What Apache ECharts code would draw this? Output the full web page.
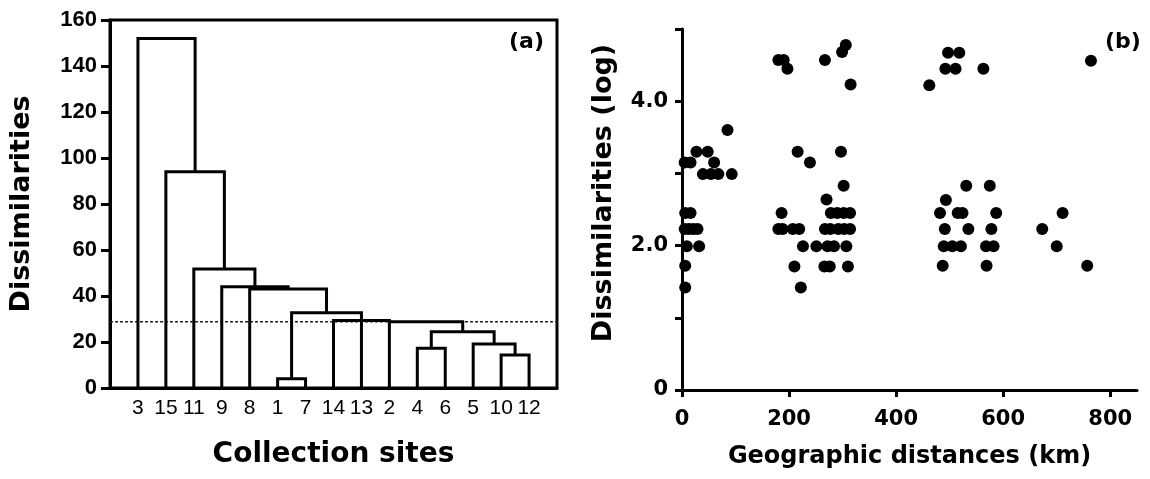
<!DOCTYPE html>
<html>
<head>
<meta charset="utf-8">
<script src="https://cdn.jsdelivr.net/npm/echarts@6/dist/echarts.min.js"></script>
<style>
  html, body { margin: 0; padding: 0; background: #fff; }
  #chart { width: 1150px; height: 479px; }
</style>
</head>
<body>
<div id="chart"></div>
<script>
// (a) dendrogram: leaf order along the x axis, then merges bottom-up.
// a kid is a leaf label (string) or the index of an earlier merge (number)
var leafOrder = ['3', '15', '11', '9', '8', '1', '7', '14', '13', '2', '4', '6', '5', '10', '12'];
var mergeKids = [
  ['1', '7'], ['10', '12'], ['4', '6'], ['5', 1], [2, 3], ['2', 4],
  ['14', '13', 5], [0, 6], ['8', 7], ['9', 8], ['11', 9], ['15', 10], ['3', 11]
];
var mergeHeight = [4, 14.3, 17.3, 19.1, 24.5, 28.8, 29.3, 32.7, 43, 44, 51.7, 94, 152];
var leftAnchored = [5];   // merge drawn above its first kid instead of the middle
var cutHeight = 28.8;
var dissTicks = [0, 160, 20];

// (b) geographic distance vs log dissimilarity
var geoDistKm = [
  5, 16, 27, 48, 60, 39, 54, 68, 93, 85, 6, 16, 5, 13, 21, 29, 9, 32, 6, 6,
  180, 190, 197, 216, 239, 267, 299, 306, 315, 297, 302, 270,
  186, 278, 290, 302, 314,
  180, 188, 207, 219, 267, 277, 292, 303, 314,
  226, 251, 272, 284, 307, 210, 266, 276, 310, 222,
  497, 518, 492, 511, 563, 462, 531, 575, 493,
  482, 515, 524, 587, 491, 535, 578, 489, 505, 521, 568, 582, 487, 569,
  764, 711, 673, 700, 757
];
var logDissim = [
  3.15, 3.15, 3.30, 3.30, 3.15, 2.99, 2.99, 2.99, 2.99, 3.60, 2.45, 2.45, 2.23, 2.23, 2.23, 2.23, 1.99, 1.99, 1.72, 1.42,
  4.57, 4.57, 4.45, 3.30, 3.15, 4.57, 4.68, 4.78, 4.23, 3.30, 2.83, 2.64,
  2.45, 2.45, 2.45, 2.45, 2.45,
  2.23, 2.23, 2.23, 2.23, 2.23, 2.23, 2.23, 2.23, 2.23,
  1.99, 1.99, 1.99, 1.99, 1.99, 1.71, 1.71, 1.71, 1.71, 1.42,
  4.67, 4.67, 4.45, 4.45, 4.45, 4.22, 2.83, 2.83, 2.63,
  2.45, 2.45, 2.45, 2.45, 2.23, 2.23, 2.23, 1.99, 1.99, 1.99, 1.99, 1.99, 1.72, 1.72,
  4.56, 2.45, 2.23, 1.99, 1.72
];
var distTicks = [0, 200, 400, 600, 800];

var ARIAL = '"Liberation Sans", Arial, sans-serif';
var WIDE = '"DejaVu Sans", Verdana, sans-serif';

// build the dendrogram polylines in data units
var nodeX = [];
function kidX(k) { return typeof k === 'number' ? nodeX[k] : leafOrder.indexOf(k) + 1; }
function kidH(k) { return typeof k === 'number' ? mergeHeight[k] : 0; }
var brackets = [];
mergeKids.forEach(function (kids, i) {
  var h = mergeHeight[i];
  var first = kids[0], last = kids[kids.length - 1];
  var x1 = kidX(first), x2 = kidX(last);
  nodeX[i] = leftAnchored.indexOf(i) >= 0 ? x1 : (x1 + x2) / 2;
  var lines = [[[x1, kidH(first)], [x1, h], [x2, h], [x2, kidH(last)]]];
  kids.slice(1, -1).forEach(function (k) {
    lines.push([[kidX(k), kidH(k)], [kidX(k), h]]);
  });
  brackets.push(lines);
});

var chart = echarts.init(document.getElementById('chart'));
function bold(family, size) {
  return { fontFamily: family, fontWeight: 'bold', fontSize: size, color: '#000' };
}

var option = {
  backgroundColor: '#fff',
  animation: false,
  grid: [
    { left: 110, top: 20, right: 593, bottom: 91, show: true, borderColor: '#000', borderWidth: 3, backgroundColor: 'transparent' },
    { left: 682, top: 29, right: 13, bottom: 89 }
  ],
  xAxis: [
    {
      gridIndex: 0, type: 'value', min: 0, max: leafOrder.length + 1,
      splitLine: { show: false },
      axisLine: { lineStyle: { color: '#000', width: 3 } },
      axisTick: { show: false },
      axisLabel: {
        customValues: leafOrder.map(function (l, i) { return i + 1; }),
        formatter: function (v) { return leafOrder[v - 1]; },
        fontFamily: ARIAL, fontSize: 21, color: '#000', margin: 10
      },
      name: 'Collection sites', nameLocation: 'middle', nameGap: 53,
      nameTextStyle: bold(WIDE, 28)
    },
    {
      gridIndex: 1, type: 'value', min: 0, max: 850,
      splitLine: { show: false },
      axisLine: { lineStyle: { color: '#000', width: 3 } },
      axisTick: { customValues: distTicks, length: 7, lineStyle: { color: '#000', width: 3 } },
      axisLabel: Object.assign({ customValues: distTicks, margin: 19 }, bold(WIDE, 21)),
      name: 'Geographic distances (km)', nameLocation: 'middle', nameGap: 55,
      nameTextStyle: bold(WIDE, 24)
    }
  ],
  yAxis: [
    {
      gridIndex: 0, type: 'value', min: dissTicks[0], max: dissTicks[1], interval: dissTicks[2],
      splitLine: { show: false },
      axisLine: { lineStyle: { color: '#000', width: 3 } },
      axisTick: { length: 9, lineStyle: { color: '#000', width: 3 } },
      axisLabel: Object.assign({ margin: 13 }, bold(ARIAL, 22)),
      name: 'Dissimilarities', nameLocation: 'middle', nameGap: 75,
      nameTextStyle: bold(WIDE, 27)
    },
    {
      gridIndex: 1, type: 'value', min: 0, max: 5, interval: 1,
      splitLine: { show: false },
      axisLine: { lineStyle: { color: '#000', width: 3 } },
      axisTick: { length: 7, lineStyle: { color: '#000', width: 3 } },
      axisLabel: Object.assign({
        margin: 14,
        formatter: function (v) { return v === 0 ? '0' : (v % 2 === 0 ? v.toFixed(1) : ''); }
      }, bold(WIDE, 21))
    }
  ],
  series: [
    {
      type: 'custom', xAxisIndex: 0, yAxisIndex: 0,
      data: brackets.map(function (b, i) { return [nodeX[i], mergeHeight[i]]; }),
      renderItem: function (params, api) {
        return {
          type: 'group',
          children: brackets[params.dataIndex].map(function (line) {
            return {
              type: 'polyline',
              shape: { points: line.map(function (p) { return api.coord(p); }) },
              style: { stroke: '#000', lineWidth: 3, fill: null, lineJoin: 'miter' }
            };
          })
        };
      },
      z: 3
    },
    {
      type: 'line', xAxisIndex: 0, yAxisIndex: 0, symbol: 'none',
      data: [[0, cutHeight], [leafOrder.length + 1, cutHeight]],
      lineStyle: { color: '#222', width: 1.5, type: [3, 2] },
      z: 2
    },
    {
      type: 'scatter', xAxisIndex: 1, yAxisIndex: 1,
      symbol: 'circle', symbolSize: 12,
      itemStyle: { color: '#000', opacity: 1 },
      data: geoDistKm.map(function (d, i) { return [d, logDissim[i]]; })
    }
  ],
  graphic: [
    { type: 'text', left: 509, top: 31, style: { text: '(a)', font: 'bold 22px ' + WIDE, fill: '#000' } },
    { type: 'text', left: 1105, top: 31, style: { text: '(b)', font: 'bold 22px ' + WIDE, fill: '#000' } },
    // right panel y title sits a little above the axis middle in the original
    {
      type: 'text', x: 604, y: 193, rotation: Math.PI / 2,
      style: { text: 'Dissimilarities (log)', font: 'bold 27px ' + WIDE, fill: '#000', align: 'center', verticalAlign: 'middle' }
    }
  ]
};

chart.setOption(option);
</script>
</body>
</html>
